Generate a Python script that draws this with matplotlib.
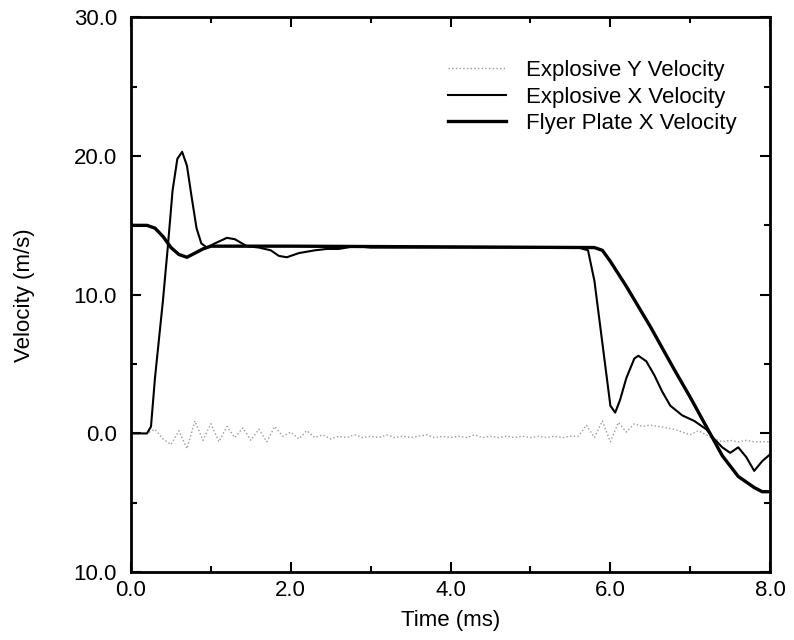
import numpy as np
import matplotlib
matplotlib.use('Agg')
from matplotlib import pyplot as plt
from matplotlib.ticker import MultipleLocator, FixedLocator, FixedFormatter

plt.rcParams['font.family'] = ['Liberation Sans', 'DejaVu Sans']

# Explosive Y velocity (noisy trace around zero)
t_y = np.round(np.arange(0, 8.01, 0.1), 2)
v_y = [0.0, 0.0, 0.0, 0.3, -0.4, -0.8, 0.2, -1.1, 0.9, -0.5,
       0.7, -0.6, 0.5, -0.3, 0.4, -0.5, 0.3, -0.6, 0.5, -0.2,
       0.1, -0.4, 0.2, -0.3, -0.1, -0.4, -0.2, -0.3, -0.1, -0.3,
       -0.2, -0.3, -0.1, -0.3, -0.2, -0.3, -0.2, -0.1, -0.3, -0.2,
       -0.3, -0.2, -0.3, -0.1, -0.3, -0.2, -0.3, -0.2, -0.3, -0.2,
       -0.3, -0.2, -0.3, -0.2, -0.3, -0.2, -0.2, 0.6, -0.3, 0.9,
       -0.6, 0.8, 0.1, 0.7, 0.5, 0.6, 0.5, 0.4, 0.3, 0.1,
       -0.1, 0.2, -0.1, -0.4, -0.6, -0.5, -0.6, -0.5, -0.6, -0.6, -0.6]

# Explosive X velocity
t_x = [0.0, 0.2, 0.25, 0.3, 0.4, 0.46, 0.52, 0.58, 0.64, 0.7, 0.76, 0.82, 0.88, 0.95,
       1.05, 1.2, 1.3, 1.45, 1.6, 1.75, 1.85, 1.95, 2.1, 2.3, 2.45, 2.6, 2.8, 3.0,
       4.0, 5.0, 5.6, 5.72, 5.8, 5.9, 6.0, 6.06, 6.12, 6.2, 6.3, 6.35, 6.45, 6.55,
       6.65, 6.75, 6.9, 7.05, 7.2, 7.3, 7.4, 7.5, 7.6, 7.7, 7.8, 7.9, 8.0]
v_x = [0.0, 0.0, 0.5, 4.0, 9.6, 13.4, 17.5, 19.8, 20.3, 19.3, 17.0, 14.8, 13.7, 13.4,
       13.7, 14.1, 14.0, 13.5, 13.4, 13.2, 12.8, 12.7, 13.0, 13.2, 13.3, 13.3, 13.5, 13.4,
       13.4, 13.4, 13.4, 13.2, 11.0, 6.5, 2.0, 1.5, 2.4, 4.0, 5.4, 5.6, 5.2, 4.2,
       3.0, 2.0, 1.3, 0.9, 0.3, -0.4, -1.0, -1.4, -1.0, -1.7, -2.7, -2.0, -1.5]

# Flyer plate X velocity
t_f = [0.0, 0.2, 0.3, 0.4, 0.5, 0.6, 0.7, 0.8, 0.9, 1.0, 2.0, 5.8, 5.9, 6.0,
       6.2, 6.5, 6.8, 7.0, 7.2, 7.4, 7.6, 7.8, 7.9, 8.0]
v_f = [15.0, 15.0, 14.8, 14.2, 13.4, 12.9, 12.7, 13.0, 13.3, 13.5, 13.5, 13.4, 13.2, 12.4,
       10.6, 7.7, 4.6, 2.6, 0.5, -1.6, -3.1, -3.9, -4.2, -4.2]

y_ticks = [-10, 0, 10, 20, 30]
y_labels = ['10.0', '0.0', '10.0', '20.0', '30.0']

fig = plt.figure(figsize=(7.94, 6.4), dpi=100)
ax = fig.add_axes([0.165, 0.106, 0.805, 0.867])

ax.plot(t_y, v_y, color='#999999', lw=1.0, ls=':', label='Explosive Y Velocity')
ax.plot(t_x, v_x, color='black', lw=1.5, label='Explosive X Velocity')
ax.plot(t_f, v_f, color='black', lw=2.4, label='Flyer Plate X Velocity')

ax.set_xlim(0, 8)
ax.set_ylim(-10, 30)
ax.xaxis.set_major_locator(MultipleLocator(2))
ax.xaxis.set_minor_locator(MultipleLocator(1))
ax.xaxis.set_major_formatter(matplotlib.ticker.FormatStrFormatter('%.1f'))
ax.yaxis.set_major_locator(FixedLocator(y_ticks))
ax.yaxis.set_major_formatter(FixedFormatter(y_labels))
ax.yaxis.set_minor_locator(MultipleLocator(5))
ax.tick_params(which='both', direction='in', top=True, right=True, labelsize=16, width=1.5)
ax.tick_params(which='major', length=7)
ax.tick_params(which='minor', length=4)
ax.tick_params(axis='y', pad=10)
ax.tick_params(axis='x', pad=6)
for s in ax.spines.values():
    s.set_linewidth(2)

ax.set_xlabel('Time (ms)', fontsize=16, labelpad=6)
ax.set_ylabel('Velocity (m/s)', fontsize=16, labelpad=28)

ax.legend(loc='upper right', bbox_to_anchor=(0.979, 0.959), frameon=False, fontsize=16,
          handlelength=2.6, handletextpad=0.9, labelspacing=0.25)

fig.savefig('out.png', dpi=100)
